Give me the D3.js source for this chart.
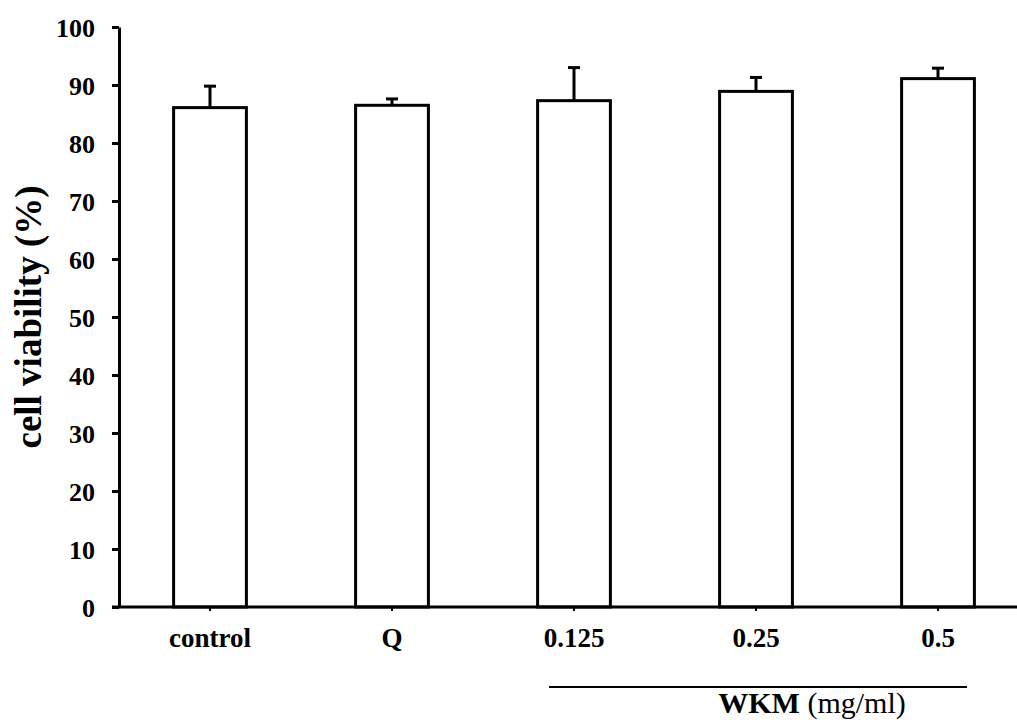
<!DOCTYPE html>
<html>
  <head>
    <meta charset="utf-8">
    <title>Cell viability</title>
    <script src="https://d3js.org/d3.v7.min.js"></script>
  </head>
  <style>
    body { margin: 0; background: #fff; }
    svg { display: block; font-family: "Liberation Serif", "Times New Roman", serif; }
    .bar { fill: #fff; stroke: #000; stroke-width: 3; }
    .err { stroke: #000; stroke-width: 3; fill: none; }
    .axis path, .axis line { stroke: #000; stroke-width: 3; }
    .axis text { font-weight: bold; fill: #000; font-family: "Liberation Serif", "Times New Roman", serif; }
  </style>
  <body>
    <script type="text/javascript">
        var width = 1017;
        var height = 720;

        // values
        const groups = ['control', 'Q', '0.125', '0.25', '0.5'];
        const viability = [86.1, 86.5, 87.3, 88.9, 91.1];
        const sd = [3.7, 1.1, 5.7, 2.4, 1.8];
        const yTicks = [0, 10, 20, 30, 40, 50, 60, 70, 80, 90, 100];

        const data = groups.map((g, i) => ({group: g, value: viability[i], err: sd[i]}));

        const svg = d3.select('body').append('svg').attr('width', width).attr('height', height);

        const x = d3.scaleBand().domain(groups).range([119, 1029]).paddingInner(0.6).paddingOuter(0.3);
        const y = d3.scaleLinear().domain([0, 100]).range([607, 27]);

        // bars
        svg.append('g').selectAll('rect').data(data).enter().append('rect')
          .attr('class', 'bar')
          .attr('x', d => x(d.group))
          .attr('y', d => y(d.value))
          .attr('width', x.bandwidth())
          .attr('height', d => y(0) - y(d.value));

        // error bars (upper only)
        const gErr = svg.append('g');
        gErr.selectAll('line.stem').data(data).enter().append('line')
          .attr('class', 'err stem')
          .attr('x1', d => x(d.group) + x.bandwidth() / 2)
          .attr('x2', d => x(d.group) + x.bandwidth() / 2)
          .attr('y1', d => y(d.value))
          .attr('y2', d => y(d.value + d.err));
        gErr.selectAll('line.cap').data(data).enter().append('line')
          .attr('class', 'err cap')
          .attr('x1', d => x(d.group) + x.bandwidth() / 2 - 6)
          .attr('x2', d => x(d.group) + x.bandwidth() / 2 + 6)
          .attr('y1', d => y(d.value + d.err))
          .attr('y2', d => y(d.value + d.err));

        // y axis
        const yAxis = svg.append('g').attr('class', 'axis')
          .attr('transform', 'translate(119,0)')
          .call(d3.axisLeft(y).tickValues(yTicks).tickSize(7).tickSizeOuter(0).tickPadding(17));
        yAxis.attr('font-family', null);
        yAxis.selectAll('text').style('font-size', '26px').attr('dy', '0.35em');

        // x axis
        const xAxis = svg.append('g').attr('class', 'axis')
          .attr('transform', 'translate(0,607)')
          .call(d3.axisBottom(x).tickSize(4).tickSizeOuter(0).tickPadding(17));
        xAxis.attr('font-family', null);
        xAxis.select('.domain').attr('d', 'M112,0H1017');
        xAxis.selectAll('.tick line').attr('stroke', '#555').style('stroke-width', 2);
        xAxis.selectAll('text').style('font-size', '27px');

        // y axis title
        svg.append('text')
          .attr('transform', 'translate(41,' + y(50) + ') rotate(-90)')
          .attr('text-anchor', 'middle')
          .style('font-size', '37px').style('font-weight', 'bold')
          .text('cell viability (%)');

        // WKM group bracket
        svg.append('line')
          .attr('x1', 549).attr('x2', 967).attr('y1', 687).attr('y2', 687)
          .attr('stroke', '#000').attr('stroke-width', 2);
        const wkm = svg.append('text')
          .attr('x', 812).attr('y', 713)
          .attr('text-anchor', 'middle')
          .style('font-size', '30px');
        wkm.append('tspan').style('font-weight', 'bold').text('WKM');
        wkm.append('tspan').text(' (mg/ml)');
      </script>
  </body>
</html>
